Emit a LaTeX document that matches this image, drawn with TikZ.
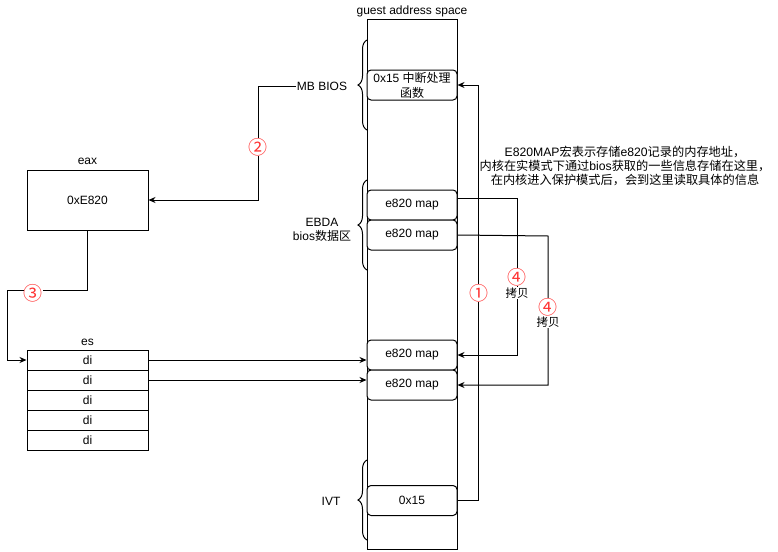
\documentclass[tikz,border=0pt]{standalone}
\usepackage{fontspec}
\setmainfont{Liberation Sans}
\newfontfamily\zh{Noto Sans CJK SC}
\usetikzlibrary{arrows.meta,decorations.pathreplacing,calc}
\definecolor{numred}{RGB}{255,51,51}
\tikzset{
 every node/.style={font=\fontsize{12}{14}\selectfont},
 box/.style={draw, line width=1pt, minimum width=90pt, inner sep=0pt, rounded corners=4pt, fill=white},
 reg/.style={draw, line width=1pt, minimum width=121pt, inner sep=0pt},
 conn/.style={line width=1pt, -{Stealth[length=7pt,width=6pt]}},
 plain/.style={line width=1pt},
 num/.style={text=numred, font=\zh\fontsize{19}{19}\selectfont, fill=white, inner sep=0pt},
 lbl/.style={inner sep=1pt},
 copylbl/.style={fill=white, inner sep=1pt, font=\zh\fontsize{11.5}{12}\selectfont},
 brc/.style={line width=1pt, decorate, decoration={brace, amplitude=9pt}},
}
\begin{document}
\begin{tikzpicture}[x=1pt,y=-1pt]
\useasboundingbox (0,0) rectangle (778,551);
% memory column
\node[lbl] (title) at (412,11) {guest address space};
\node[draw, line width=1pt, minimum width=90pt, minimum height=529pt, inner sep=0pt] (col) at (412,284.5) {};
\node[box, minimum height=30pt, align=center, font=\fontsize{12}{15}\selectfont] (int) at (412,85) {0x15 {\zh 中断处理}\\{\zh 函数}};
\node[box, minimum height=30pt] (m1) at (412,205) {e820 map};
\node[box, minimum height=30pt] (m2) at (412,235) {e820 map};
\node[box, minimum height=30pt] (m3) at (412,355) {e820 map};
\node[box, minimum height=30pt] (m4) at (412,385) {e820 map};
\node[box, minimum height=30pt] (ivt) at (412,500.5) {0x15};
% braces and their labels
\draw[brc] (367,130) -- (367,40);
\draw[brc] (367,270) -- (367,180);
\draw[brc] (367,540) -- (367,460);
\node[lbl] (mbbios) at (322,86) {MB BIOS};
\node[lbl, align=center] (ebda) at (322,230) {EBDA\\bios{\zh 数据区}};
\node[lbl] (ivtl) at (331,501) {IVT};
% registers
\node[lbl] (eaxl) at (87.5,161) {eax};
\node[reg, minimum height=60pt] (eax) at (87.5,200) {0xE820};
\node[lbl] (esl) at (87.5,342) {es};
\node[reg, minimum height=20pt] (d1) at (87.5,360) {di};
\node[reg, minimum height=20pt] (d2) at (87.5,380) {di};
\node[reg, minimum height=20pt] (d3) at (87.5,400) {di};
\node[reg, minimum height=20pt] (d4) at (87.5,420) {di};
\node[reg, minimum height=20pt] (d5) at (87.5,440) {di};
% annotation
\node[lbl, align=center, font=\fontsize{12.2}{14.2}\selectfont] (note) at (625,166) {E820MAP{\zh 宏表示存储}e820{\zh 记录的内存地址，}\\{\zh 内核在实模式下通过}bios{\zh 获取的一些信息存储在这里，}\\{\zh 在内核进入保护模式后，会到这里读取具体的信息}};
% connectors
\coordinate (c1) at (478,85);
\draw[conn] (ivt.east) -| (c1) -- (int.east);
\node[num] (n1) at (479,293) {①};
\coordinate (c2) at (258,85);
\draw[conn] (mbbios.west) -- (mbbios.west -| c2) |- (eax.east);
\node[num] (n2) at (258,147) {②};
\coordinate (c3a) at (87.5,290);
\coordinate (c3b) at (7,290);
\draw[conn] (eax.south) -- (c3a) -- (c3b) |- (d1.west);
\node[num] (n3) at (33,293) {③};
\draw[conn] (d1.east) -- (d1.east -| m3.west);
\draw[conn] (d2.east) -- (d2.east -| m4.west);
\coordinate (c4) at (517,198);
\draw[conn] ($(m1.east)+(0,-7)$) -- (c4) |- (m3.east);
\node[num] (n4a) at (517,277) {④};
\node[copylbl] (k4a) at (517,293) {拷贝};
\coordinate (c5) at (548,236);
\draw[conn] (m2.east) -- (c5) |- (m4.east);
\node[num] (n4b) at (548,307) {④};
\node[copylbl] (k4b) at (548,322) {拷贝};
\end{tikzpicture}
\end{document}
